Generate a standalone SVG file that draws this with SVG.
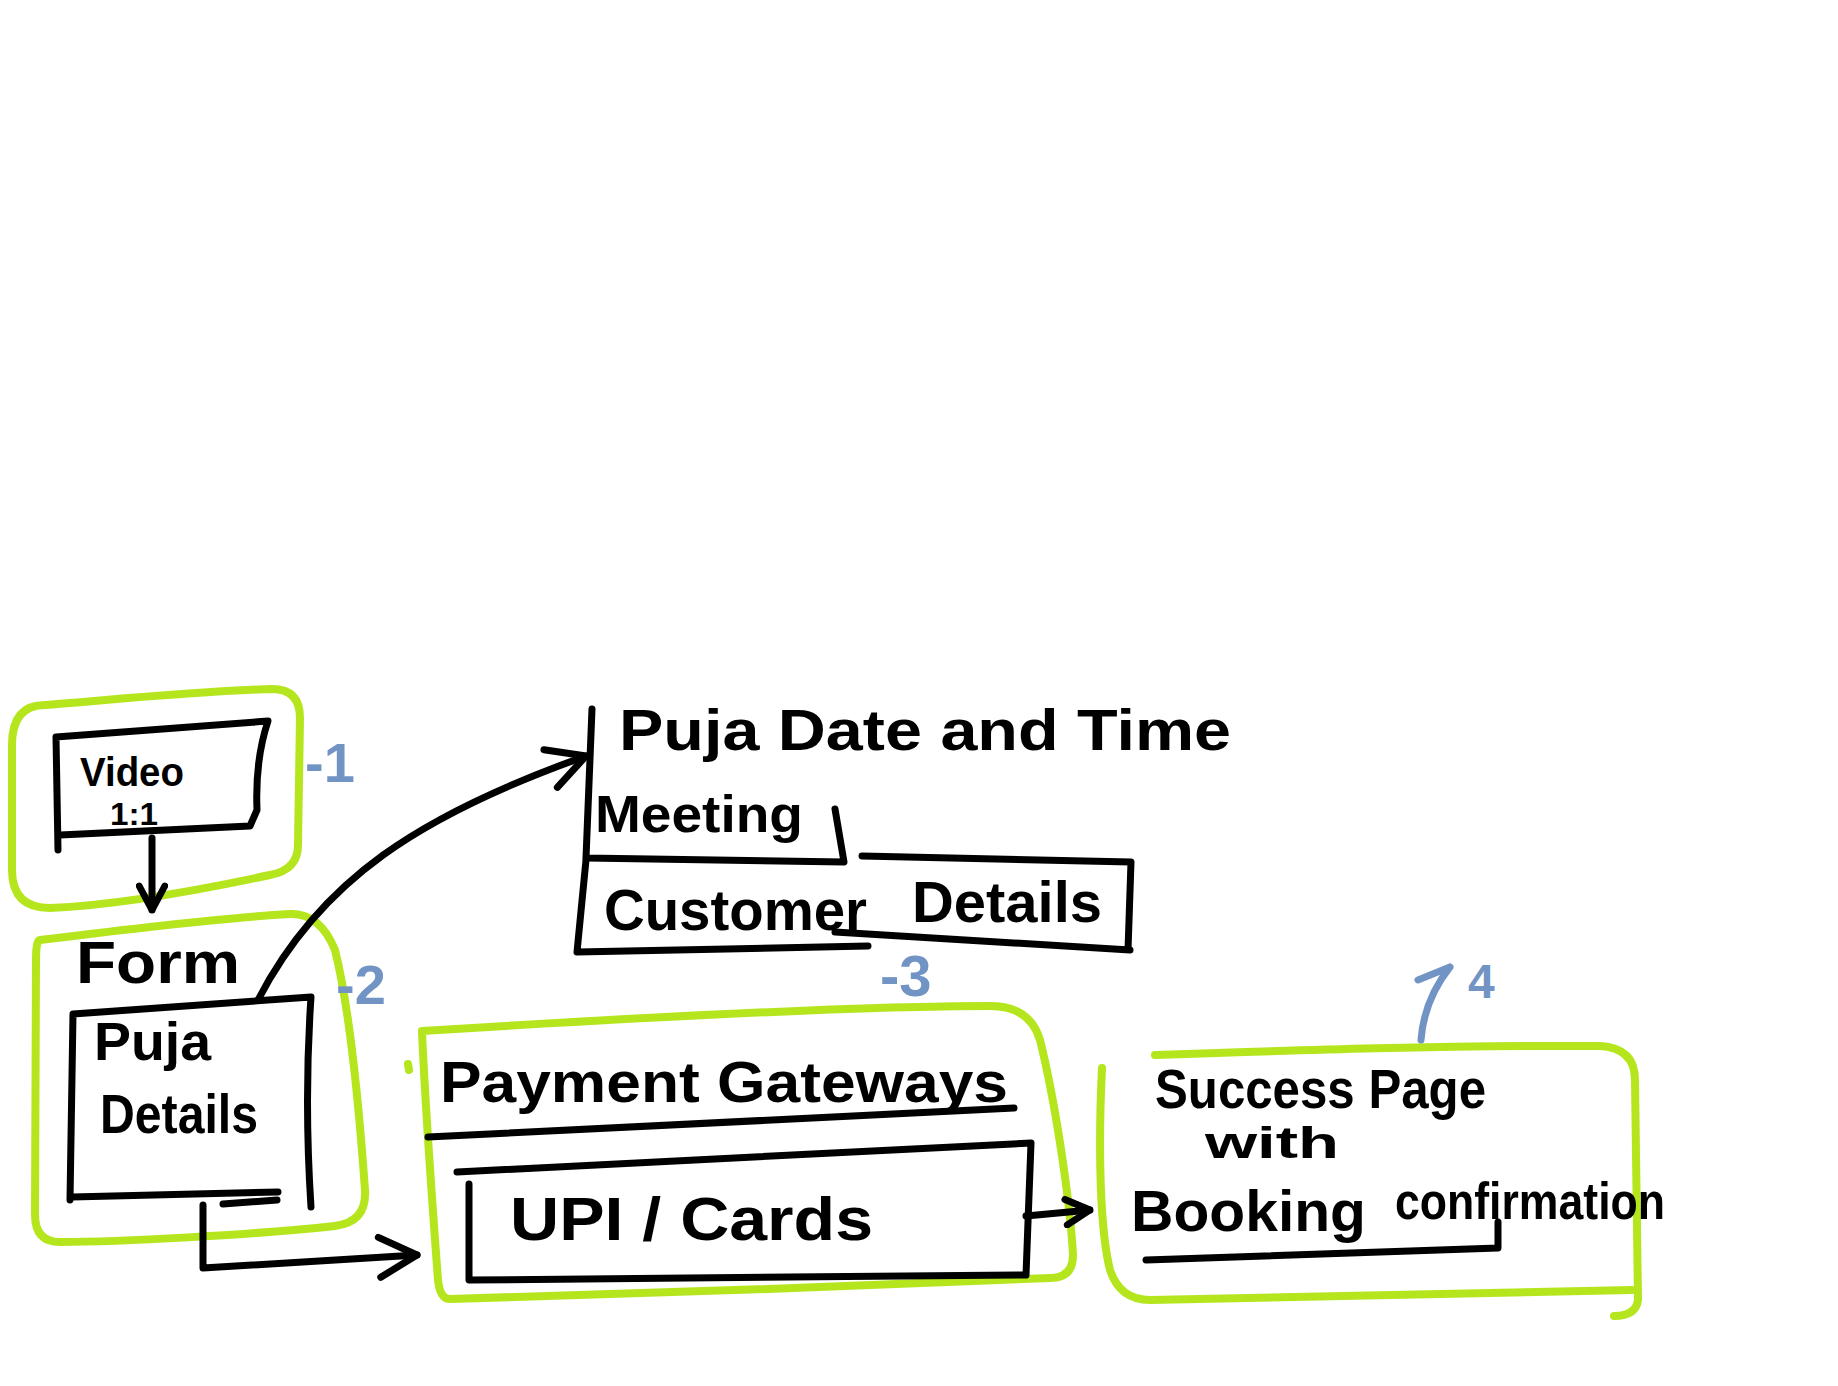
<svg xmlns="http://www.w3.org/2000/svg" width="1838" height="1386" viewBox="0 0 1838 1386">
<style>
.ink{fill:none;stroke:#000;stroke-width:7;stroke-linecap:round;stroke-linejoin:round}
.hl{fill:none;stroke:#b5e61d;stroke-width:8;stroke-linecap:round;stroke-linejoin:round}
.bl{fill:none;stroke:#7294c4;stroke-width:7;stroke-linecap:round;stroke-linejoin:round}
.t{font-family:"Liberation Sans",Arial,sans-serif;font-weight:bold;fill:#000}
.n{font-family:"Liberation Sans",Arial,sans-serif;font-weight:bold;fill:#7294c4}
</style>
<defs>
<marker id="arrL" viewBox="0 0 20 20" refX="18" refY="10" markerWidth="50" markerHeight="50" markerUnits="userSpaceOnUse" orient="auto">
<path d="M3,2 L18,10 L3,18" fill="none" stroke="#000" stroke-width="2.8" stroke-linecap="round" stroke-linejoin="round"/>
</marker>
<marker id="arrS" viewBox="0 0 20 20" refX="18" refY="10" markerWidth="32" markerHeight="32" markerUnits="userSpaceOnUse" orient="auto">
<path d="M3,2 L18,10 L3,18" fill="none" stroke="#000" stroke-width="4.3" stroke-linecap="round" stroke-linejoin="round"/>
</marker>
</defs>
<rect width="1838" height="1386" fill="#fff"/>

<g id="group-1">
<path class="hl" d="M45,705 C120,699 200,691 272,689 Q300,689 300,718 L298,845 Q298,870 270,875 C200,890 120,905 50,908 Q12,908 12,870 L12,745 Q12,705 45,705 Z"/>
</g>
<g id="group-2">
<path class="hl" d="M40,940 C120,930 220,918 290,914 Q320,913 335,950 C350,1010 360,1120 365,1190 Q367,1222 335,1226 C250,1235 120,1242 60,1242 Q35,1242 35,1215 L36,960 Q36,940 40,940 Z"/>
</g>
<g id="group-3">
<path class="hl" d="M422,1031 C600,1020 850,1006 990,1006 Q1030,1006 1040,1040 C1055,1100 1070,1200 1073,1255 Q1073,1278 1050,1278 C900,1285 600,1295 450,1299 Q440,1299 438,1280 C432,1200 425,1100 422,1031 Z"/>
<path class="hl" d="M408,1064 L409,1070"/>
</g>
<g id="group-4">
<path class="hl" d="M1155,1055 C1300,1050 1450,1045 1600,1046 Q1635,1048 1635,1080 L1638,1300 Q1636,1316 1614,1316"/>
<path class="hl" d="M1102,1068 C1098,1150 1100,1230 1110,1270 Q1120,1300 1150,1300 L1632,1290"/>
</g>

<g id="video">
<path class="ink" d="M58,850 L56,737 L268,721 Q255,760 257,810 L250,826 L60,835"/>
<text class="t" x="80" y="786" font-size="40" textLength="104" lengthAdjust="spacingAndGlyphs">Video</text>
<text class="t" x="110" y="825" font-size="32" textLength="48" lengthAdjust="spacingAndGlyphs">1:1</text>
</g>

<g id="form">
<text class="t" x="76" y="983" font-size="60" textLength="164" lengthAdjust="spacingAndGlyphs">Form</text>
</g>

<g id="puja-details">
<path class="ink" d="M70,1200 L73,1014 L311,997 Q304,1100 311,1207 M72,1197 L278,1192 M223,1204 L277,1200"/>
<text class="t" x="94" y="1060" font-size="54" textLength="117" lengthAdjust="spacingAndGlyphs">Puja</text>
<text class="t" x="100" y="1133" font-size="56" textLength="158" lengthAdjust="spacingAndGlyphs">Details</text>
</g>

<g id="puja-date-time">
<path class="ink" d="M592,709 L586,858 L844,862 L835,809"/>
<text class="t" x="619" y="750" font-size="58" textLength="612" lengthAdjust="spacingAndGlyphs">Puja Date and Time</text>
<text class="t" x="595" y="832" font-size="52" textLength="208" lengthAdjust="spacingAndGlyphs">Meeting</text>
</g>

<g id="customer-details">
<path class="ink" d="M862,856 L1131,862 L1128,950 M586,860 L577,952 L868,946 M835,932 L1130,950"/>
<text class="t" x="604" y="930" font-size="58" textLength="263" lengthAdjust="spacingAndGlyphs">Customer</text>
<text class="t" x="912" y="922" font-size="58" textLength="190" lengthAdjust="spacingAndGlyphs">Details</text>
</g>

<g id="payment-gateways">
<text class="t" x="440" y="1102" font-size="58" textLength="568" lengthAdjust="spacingAndGlyphs">Payment Gateways</text>
<path class="ink" d="M428,1137 L1014,1108"/>
</g>

<g id="upi-cards">
<path class="ink" d="M457,1172 L1031,1143 L1026,1275 L469,1280 L469,1184"/>
<text class="t" x="510" y="1240" font-size="62" textLength="363" lengthAdjust="spacingAndGlyphs">UPI / Cards</text>
</g>

<g id="success-page">
<text class="t" x="1155" y="1108" font-size="56" textLength="331" lengthAdjust="spacingAndGlyphs">Success Page</text>
<text class="t" x="1205" y="1158" font-size="44" textLength="134" lengthAdjust="spacingAndGlyphs">with</text>
<text class="t" x="1131" y="1231" font-size="58" textLength="235" lengthAdjust="spacingAndGlyphs">Booking</text>
<text class="t" x="1395" y="1219" font-size="52" textLength="270" lengthAdjust="spacingAndGlyphs">confirmation</text>
<path class="ink" d="M1146,1260 L1498,1248 L1498,1222"/>
</g>

<g id="labels">
<text class="n" x="305" y="782" font-size="56">-1</text>
<text class="n" x="336" y="1004" font-size="56">-2</text>
<text class="n" x="880" y="996" font-size="58">-3</text>
<path class="bl" d="M1421,1040 Q1424,1000 1450,967 M1418,980 L1450,967"/>
<text class="n" x="1468" y="998" font-size="48">4</text>
</g>

<g id="connectors">
<path class="ink" d="M152,838 L152,910" marker-end="url(#arrS)"/>
<path class="ink" d="M258,1000 C320,880 420,815 586,756" marker-end="url(#arrL)"/>
<path class="ink" d="M203,1205 L203,1268 L417,1255" marker-end="url(#arrL)"/>
<path class="ink" d="M1026,1216 L1090,1210" marker-end="url(#arrS)"/>
</g>
</svg>
